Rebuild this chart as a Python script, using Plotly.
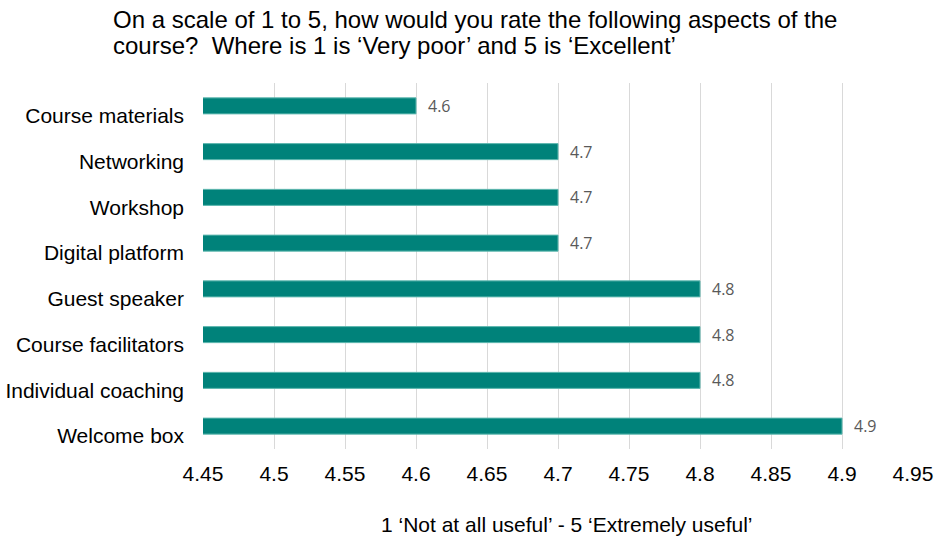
import plotly.graph_objects as go

# Survey ratings, listed top to bottom as in the chart
aspects = ['Course materials', 'Networking', 'Workshop', 'Digital platform',
           'Guest speaker', 'Course facilitators', 'Individual coaching',
           'Welcome box']
ratings = [4.6, 4.7, 4.7, 4.7, 4.8, 4.8, 4.8, 4.9]
tick_vals = [4.45, 4.5, 4.55, 4.6, 4.65, 4.7, 4.75, 4.8, 4.85, 4.9, 4.95]
title_lines = ['On a scale of 1 to 5, how would you rate the following aspects of the',
               'course?  Where is 1 is ‘Very poor’ and 5 is ‘Excellent’']

fig = go.Figure(
    go.Bar(
        x=ratings, y=aspects, orientation='h',
        width=0.35,
        marker=dict(color='#00827a', line=dict(color='#5fb8b0', width=1)),
        hoverinfo='x+y',
    )
)

# value labels just right of each bar
labels = []
for a, r in zip(aspects, ratings):
    labels.append(dict(
        x=r, y=a, xref='x', yref='y', text='%.1f' % r,
        xanchor='left', yanchor='middle', xshift=10, showarrow=False,
        font=dict(family='Open Sans', size=16, color='#595959'),
    ))

# title as two lines, kept tight like the original
for i, line in enumerate(title_lines):
    labels.append(dict(
        text=line, xref='paper', yref='paper', x=(111 - 203) / 710, y=1,
        yshift=64 - 26 * i, xanchor='left', yanchor='middle',
        showarrow=False, font=dict(size=24),
    ))

fig.update_layout(
    width=936, height=537,
    margin=dict(l=203, r=23, t=83, b=88),
    plot_bgcolor='white', paper_bgcolor='white',
    font=dict(family='Liberation Sans, Arial', size=21, color='#000000'),
    showlegend=False,
    xaxis=dict(
        range=[4.45, 4.95], tickvals=tick_vals,
        ticktext=['%g' % v for v in tick_vals],
        showgrid=True, gridcolor='#d9d9d9', gridwidth=1,
        zeroline=False, showline=False, ticks='', ticklabelstandoff=10,
        tickfont=dict(size=21), fixedrange=True, automargin=False,
    ),
    yaxis=dict(
        categoryorder='array', categoryarray=aspects[::-1],
        showgrid=False, zeroline=False, showline=False,
        ticks='', ticklabelstandoff=18, ticklabelshift=10,
        tickfont=dict(size=21), automargin=False,
    ),
    annotations=labels + [
        dict(
            text='1 ‘Not at all useful’ - 5 ‘Extremely useful’',
            xref='paper', yref='paper', x=(567 - 203) / 710, y=0, yshift=-75,
            xanchor='center', yanchor='middle', showarrow=False,
            font=dict(size=21),
        ),
    ],
)

# drop the default 8px page margin so the figure fills the window
fig.write_html('out.html', config={'displayModeBar': False},
               post_script="document.body.style.margin = '0';")
